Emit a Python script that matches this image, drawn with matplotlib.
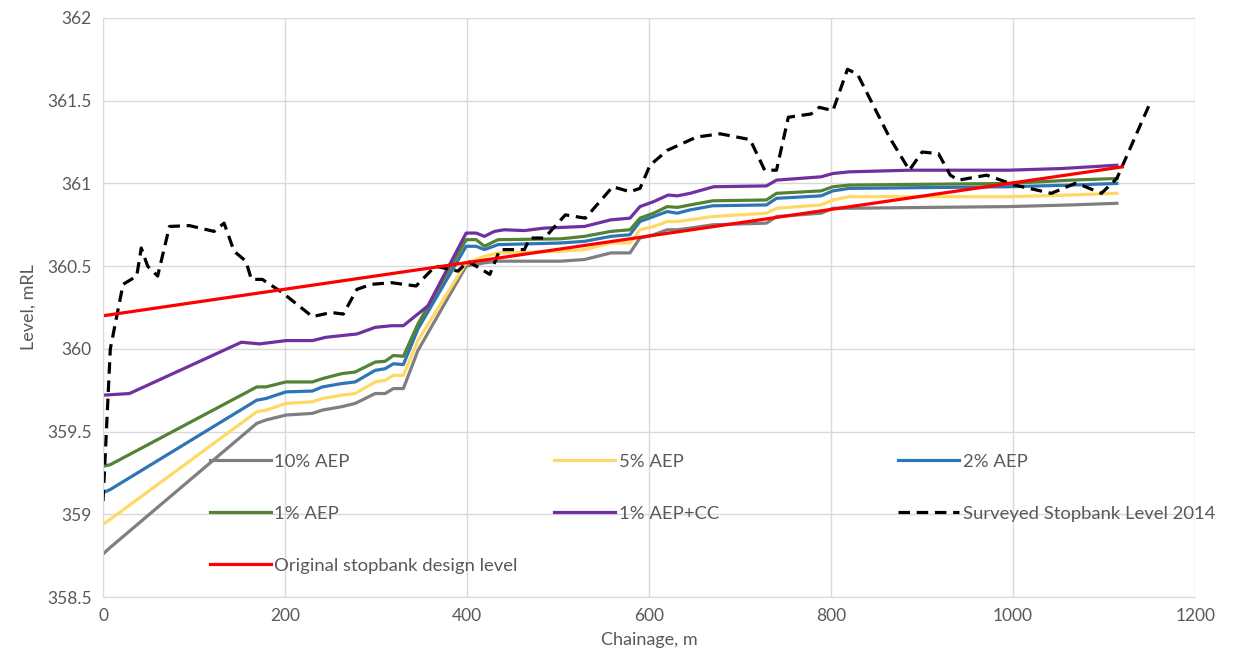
import matplotlib.pyplot as plt

plt.rcParams["font.family"] = ["Lato", "DejaVu Sans"]

# chainage (m) shared by the AEP flood profiles
ch_aep = [0, 8, 169, 179, 201, 230, 241, 262, 277, 299, 310, 319, 330, 346, 399, 410, 419,
          434, 503, 529, 558, 579, 590, 605, 620, 631, 645, 670, 729, 740, 789, 802, 820,
          995, 1064, 1114]
aep10 = [358.76, 358.80, 359.55, 359.57, 359.60, 359.61, 359.63, 359.65, 359.67, 359.73, 359.73,
         359.76, 359.76, 359.99, 360.50, 360.51, 360.52, 360.53, 360.53, 360.54, 360.58, 360.58,
         360.67, 360.69, 360.72, 360.72, 360.73, 360.75, 360.76, 360.80, 360.82, 360.85, 360.85,
         360.86, 360.87, 360.88]
aep5 = [358.94, 358.97, 359.62, 359.63, 359.67, 359.68, 359.70, 359.72, 359.73, 359.80, 359.81,
        359.84, 359.84, 360.05, 360.52, 360.54, 360.56, 360.58, 360.59, 360.60, 360.64, 360.64,
        360.72, 360.74, 360.77, 360.77, 360.78, 360.80, 360.82, 360.85, 360.87, 360.90, 360.92,
        360.92, 360.93, 360.94]
aep2 = [359.13, 359.15, 359.69, 359.70, 359.74, 359.745, 359.77, 359.79, 359.80, 359.87, 359.88,
        359.91, 359.905, 360.12, 360.62, 360.62, 360.60, 360.63, 360.64, 360.65, 360.68, 360.69,
        360.77, 360.80, 360.83, 360.82, 360.84, 360.865, 360.87, 360.91, 360.925, 360.955, 360.97,
        360.98, 360.99, 361.00]
aep1 = [359.29, 359.30, 359.77, 359.77, 359.80, 359.80, 359.82, 359.85, 359.86, 359.92, 359.925,
        359.96, 359.955, 360.15, 360.66, 360.66, 360.62, 360.66, 360.665, 360.68, 360.71, 360.72,
        360.79, 360.82, 360.86, 360.855, 360.87, 360.895, 360.90, 360.94, 360.955, 360.98, 360.99,
        361.00, 361.02, 361.03]

ch_cc = [0, 29, 152, 172, 201, 230, 245, 279, 299, 317, 330, 357, 399, 410, 419, 430, 441, 463,
         485, 529, 558, 579, 590, 605, 621, 631, 645, 671, 729, 740, 789, 802, 820, 886, 995,
         1053, 1114]
aep1_cc = [359.72, 359.73, 360.04, 360.03, 360.05, 360.05, 360.07, 360.09, 360.13, 360.14, 360.14,
           360.26, 360.70, 360.70, 360.68, 360.71, 360.72, 360.715, 360.73, 360.74, 360.78, 360.79,
           360.86, 360.89, 360.93, 360.925, 360.94, 360.98, 360.985, 361.02, 361.04, 361.06, 361.07,
           361.08, 361.08, 361.09, 361.11]

ch_survey = [0, 8, 22, 37, 42, 49, 60, 73, 95, 122, 133, 144, 157, 163, 175, 186, 197, 230, 251,
             264, 279, 295, 317, 344, 365, 390, 401, 425, 436, 463, 469, 485, 508, 530, 560, 579,
             590, 601, 620, 652, 678, 711, 727, 740, 753, 778, 787, 802, 818, 829, 864, 886, 900,
             918, 931, 940, 971, 1002, 1042, 1068, 1075, 1097, 1114, 1150]
survey = [359.08, 360.00, 360.39, 360.44, 360.61, 360.50, 360.44, 360.74, 360.745, 360.71, 360.76,
          360.59, 360.53, 360.42, 360.42, 360.38, 360.34, 360.195, 360.22, 360.21, 360.36, 360.39,
          360.40, 360.38, 360.50, 360.47, 360.53, 360.45, 360.60, 360.60, 360.67, 360.67, 360.81,
          360.79, 360.98, 360.95, 360.97, 361.11, 361.20, 361.28, 361.30, 361.265, 361.08, 361.08,
          361.40, 361.42, 361.46, 361.44, 361.69, 361.66, 361.28, 361.08, 361.19, 361.18, 361.05,
          361.02, 361.05, 360.99, 360.94, 361.00, 360.99, 360.94, 361.03, 361.48]

ch_design = [0, 1120]
design = [360.2, 361.1]

fig = plt.figure(figsize=(12.34, 6.69), dpi=100)
ax = fig.add_axes([0.0835, 0.1076, 0.885, 0.8655])

lw = 2.3
l10, = ax.plot(ch_aep, aep10, color="#7f7f7f", lw=lw, label="10% AEP")
l5, = ax.plot(ch_aep, aep5, color="#ffd966", lw=lw, label="5% AEP")
l2, = ax.plot(ch_aep, aep2, color="#2e75b6", lw=lw, label="2% AEP")
l1, = ax.plot(ch_aep, aep1, color="#548235", lw=lw, label="1% AEP")
lcc, = ax.plot(ch_cc, aep1_cc, color="#7030a0", lw=lw, label="1% AEP+CC")
lsv, = ax.plot(ch_survey, survey, color="black", lw=lw, ls=(0, (3.6, 2.1)),
               label="Surveyed Stopbank Level 2014")
ldz, = ax.plot(ch_design, design, color="red", lw=lw, label="Original stopbank design level")

ax.set_xlim(0, 1200)
ax.set_ylim(358.5, 362)
ax.set_xticks(range(0, 1201, 200))
ax.set_yticks([358.5, 359, 359.5, 360, 360.5, 361, 361.5, 362])
ax.set_yticklabels(["358.5", "359", "359.5", "360", "360.5", "361", "361.5", "362"])
ax.grid(color="#d9d9d9", lw=1)
ax.set_axisbelow(True)
for s in ["top", "right"]:
    ax.spines[s].set_visible(False)
for s in ["left", "bottom"]:
    ax.spines[s].set_color("#d9d9d9")
ax.tick_params(length=0, labelsize=12.5, colors="#595959", pad=8)
ax.set_xlabel("Chainage, m", fontsize=13, color="#595959", labelpad=6)
ax.set_ylabel("Level, mRL", fontsize=13, color="#595959", labelpad=8)

# legend: three columns drawn as separate legends
cols = [([l10, l1, ldz], 0.170), ([l5, lcc], 0.449), ([l2, lsv], 0.728)]
for handles, x0 in cols:
    fig.legend(handles=handles, loc="upper left", bbox_to_anchor=(x0, 0.322),
               bbox_transform=fig.transFigure, frameon=False, fontsize=13.3,
               labelcolor="#595959", handlelength=3.3, handletextpad=0.2,
               labelspacing=1.95, borderpad=0, borderaxespad=0)

fig.savefig("out.png", dpi=100)
